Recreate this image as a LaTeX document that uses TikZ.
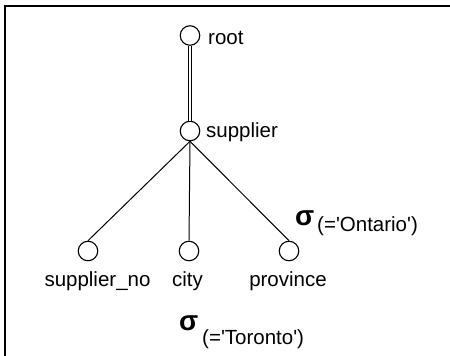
\documentclass[tikz,border=0pt]{standalone}
\usepackage{fontspec}
\setmainfont{Liberation Sans}
\begin{document}
\begin{tikzpicture}[x=1pt,y=-1pt,
  vtx/.style={circle,draw,line width=1.1pt,minimum size=19.5pt,inner sep=0pt,fill=white},
  lbl/.style={font=\fontsize{20.5}{23}\selectfont,inner sep=0pt},
  sig/.style={font=\fontsize{28}{30}\selectfont\bfseries,inner sep=0pt,anchor=base west},
  cond/.style={font=\fontsize{20.5}{23}\selectfont,inner sep=0pt,anchor=base west},
  edge/.style={line width=1pt}]
\useasboundingbox (0,0) rectangle (450,356);
% frame
\draw[line width=2pt] (5,356) -- (5,6) -- (450,6);
% vertices
\node[vtx] (root) at (190,35.5) {};
\node[vtx] (sup) at (190,131) {};
\node[vtx] (sno) at (88,251) {};
\node[vtx] (city) at (189,251) {};
\node[vtx] (prov) at (289,251) {};
% labels
\node[lbl,anchor=base west] (lroot) at (208,45) {root};
\node[lbl,anchor=base west] (lsup) at (206,137.5) {supplier};
\node[lbl,anchor=base] (lsno) at (97.5,286.5) {supplier\_no};
\node[lbl,anchor=base] (lcity) at (187.5,286.5) {city};
\node[lbl,anchor=base] (lprov) at (288,286.5) {province};
% edges
\draw[edge,double distance=2.5pt] (root) -- (sup);
\coordinate (hub) at (sup.south);
\draw[edge] (hub) -- (sno.north);
\draw[edge] (hub) -- (city.north);
\draw[edge] (hub) -- (prov.north);
% selection conditions
\node[sig] (s1) at (295,225) {σ};
\node[cond] (c1) at (317,231) {(=\textquotesingle Ontario\textquotesingle)};
\node[sig] (s2) at (179,330) {σ};
\node[cond] (c2) at (202,344) {(=\textquotesingle Toronto\textquotesingle)};
\end{tikzpicture}
\end{document}
